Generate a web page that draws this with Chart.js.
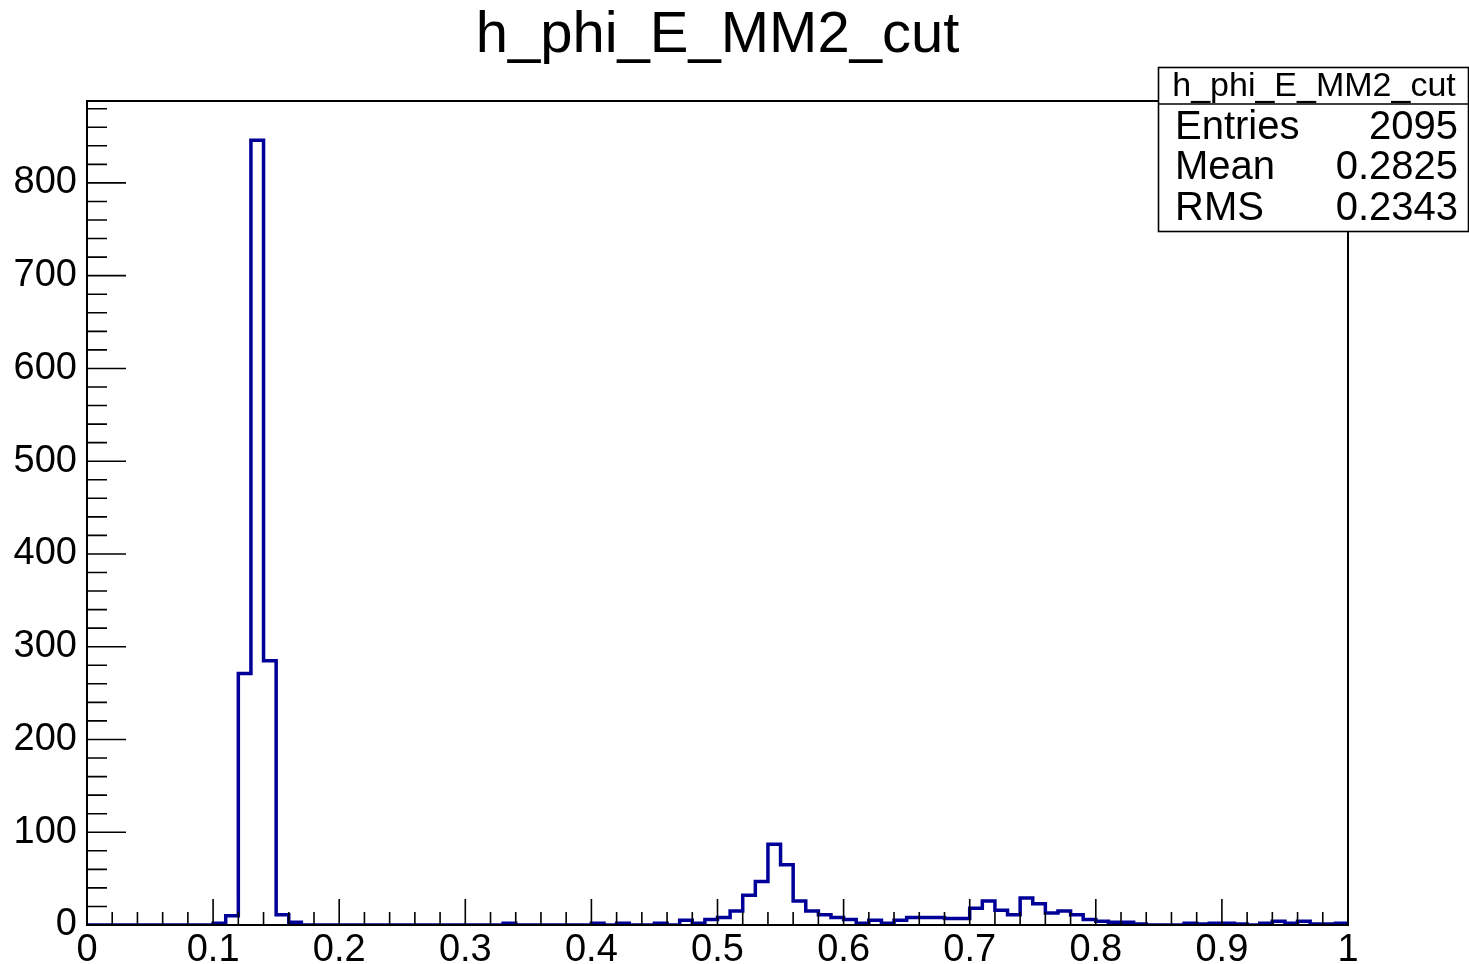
<!DOCTYPE html>
<html>
<head>
<meta charset="utf-8">
<title>h_phi_E_MM2_cut</title>
<script src="https://cdn.jsdelivr.net/npm/chart.js@4.4.1/dist/chart.umd.min.js"></script>
<style>
    html, body { margin: 0; padding: 0; background: #fff; }
    #wrap { width: 1469px; height: 964px; position: relative; }
</style>
</head>
<body>
<div id="wrap"><canvas id="histChart"></canvas></div>
<script>
// histogram binning and contents (100 bins, 0 .. 1)
var histTitle = "h_phi_E_MM2_cut";
var binLow = 0;
var binHigh = 1;
var binWidth = 0.01;
var counts = [
    0, 0, 0, 0, 0, 0, 0, 0, 0, 0,
    2, 10, 271, 846, 285, 11, 3, 0, 0, 0,
    0, 0, 0, 0, 0, 0, 0, 0, 0, 0,
    0, 0, 0, 2, 0, 0, 0, 0, 0, 0,
    2, 0, 2, 0, 0, 2, 0, 5, 2, 6,
    8, 15, 32, 47, 87, 65, 26, 15, 11, 8,
    6, 2, 5, 2, 5, 8, 8, 8, 7, 7,
    18, 26, 16, 11, 29, 23, 13, 15, 11, 6,
    4, 3, 3, 1, 0, 0, 0, 2, 1, 2,
    2, 1, 0, 2, 4, 2, 4, 1, 1, 2
];
var xTicks = [0, 0.1, 0.2, 0.3, 0.4, 0.5, 0.6, 0.7, 0.8, 0.9, 1];
var yTicks = [0, 100, 200, 300, 400, 500, 600, 700, 800];
var yMax = 888.3;
var statsNames = ["Entries", "Mean", "RMS"];
var statsValues = ["2095", "0.2825", "0.2343"];

var fontFamily = '"Liberation Sans", Arial, Helvetica, sans-serif';

// step outline: one point per lower bin edge, plus the upper edge
var points = counts.map(function (c, i) {
    return { x: binLow + i * binWidth, y: c };
});
points.push({ x: binHigh, y: counts[counts.length - 1] });

// ROOT-like frame, inner tick marks and the stats box
var rootFrame = {
    id: "rootFrame",
    afterDatasetsDraw: function (chart) {
        var ctx = chart.ctx;
        var a = chart.chartArea;
        var xs = chart.scales.x;
        var ys = chart.scales.y;
        ctx.save();
        ctx.strokeStyle = "#000";
        ctx.lineWidth = 2;
        ctx.strokeRect(a.left, a.top, a.right - a.left, a.bottom - a.top);

        ctx.beginPath();
        ctx.lineWidth = 1.6;
        for (var i = 0; i < xTicks.length; i++) {
            var px = xs.getPixelForValue(xTicks[i]);
            ctx.moveTo(px, a.bottom);
            ctx.lineTo(px, a.bottom - 26);
            if (i < xTicks.length - 1) {
                var step = (xTicks[i + 1] - xTicks[i]) / 5;
                for (var m = 1; m < 5; m++) {
                    var mx = xs.getPixelForValue(xTicks[i] + m * step);
                    ctx.moveTo(mx, a.bottom);
                    ctx.lineTo(mx, a.bottom - 13);
                }
            }
        }
        for (var j = 0; j < yTicks.length; j++) {
            var py = ys.getPixelForValue(yTicks[j]);
            ctx.moveTo(a.left, py);
            ctx.lineTo(a.left + 39, py);
            var ystep = 20;
            for (var n = 1; n < 5; n++) {
                var v = yTicks[j] + n * ystep;
                if (v > yMax) break;
                var my = ys.getPixelForValue(v);
                ctx.moveTo(a.left, my);
                ctx.lineTo(a.left + 20, my);
            }
        }
        ctx.stroke();

        // stats box
        var bx = 1158.5, by = 67.5, bw = 310, bh = 164;
        ctx.fillStyle = "#fff";
        ctx.fillRect(bx, by, bw, bh);
        ctx.lineWidth = 1.6;
        ctx.strokeRect(bx, by, bw, bh);
        ctx.beginPath();
        ctx.moveTo(bx, 104);
        ctx.lineTo(bx + bw, 104);
        ctx.stroke();

        ctx.fillStyle = "#000";
        ctx.textBaseline = "middle";
        ctx.font = "34px " + fontFamily;
        ctx.textAlign = "center";
        ctx.fillText(histTitle, 1314, 87);
        ctx.font = "40px " + fontFamily;
        var rowY = [128, 168, 209];
        for (var r = 0; r < statsNames.length; r++) {
            ctx.textAlign = "left";
            ctx.fillText(statsNames[r], 1175, rowY[r]);
            ctx.textAlign = "right";
            ctx.fillText(statsValues[r], 1458, rowY[r]);
        }
        ctx.restore();
    }
};

var ctx = document.getElementById("histChart").getContext("2d");
new Chart(ctx, {
    type: "line",
    data: {
        datasets: [{
            label: histTitle,
            data: points,
            stepped: "before",
            borderColor: "#000099",
            borderWidth: 3.5,
            pointRadius: 0,
            fill: false,
            tension: 0
        }]
    },
    options: {
        responsive: true,
        maintainAspectRatio: false,
        animation: false,
        layout: { padding: { left: 0, right: 121, top: 0, bottom: 0 } },
        plugins: {
            legend: { display: false },
            tooltip: { enabled: false },
            title: {
                display: true,
                text: histTitle,
                fullSize: false,
                color: "#000",
                font: { family: fontFamily, size: 58, weight: "normal", lineHeight: 1 },
                padding: { top: 7, bottom: 36 }
            }
        },
        scales: {
            x: {
                type: "linear",
                min: binLow,
                max: binHigh,
                grid: { display: false, drawTicks: false },
                border: { display: false },
                afterBuildTicks: function (s) {
                    s.ticks = xTicks.map(function (v) { return { value: v }; });
                },
                afterFit: function (s) { s.height = 39; },
                ticks: {
                    autoSkip: false,
                    maxRotation: 0,
                    padding: 3,
                    color: "#000",
                    font: { family: fontFamily, size: 38 },
                    callback: function (v) { return String(v); }
                }
            },
            y: {
                min: 0,
                max: yMax,
                grid: { display: false, drawTicks: false },
                border: { display: false },
                afterBuildTicks: function (s) {
                    s.ticks = yTicks.map(function (v) { return { value: v }; });
                },
                afterFit: function (s) { s.width = 87; },
                ticks: {
                    autoSkip: false,
                    padding: 10,
                    color: "#000",
                    font: { family: fontFamily, size: 38 },
                    callback: function (v) { return String(v); }
                }
            }
        }
    },
    plugins: [rootFrame]
});
</script>
</body>
</html>
